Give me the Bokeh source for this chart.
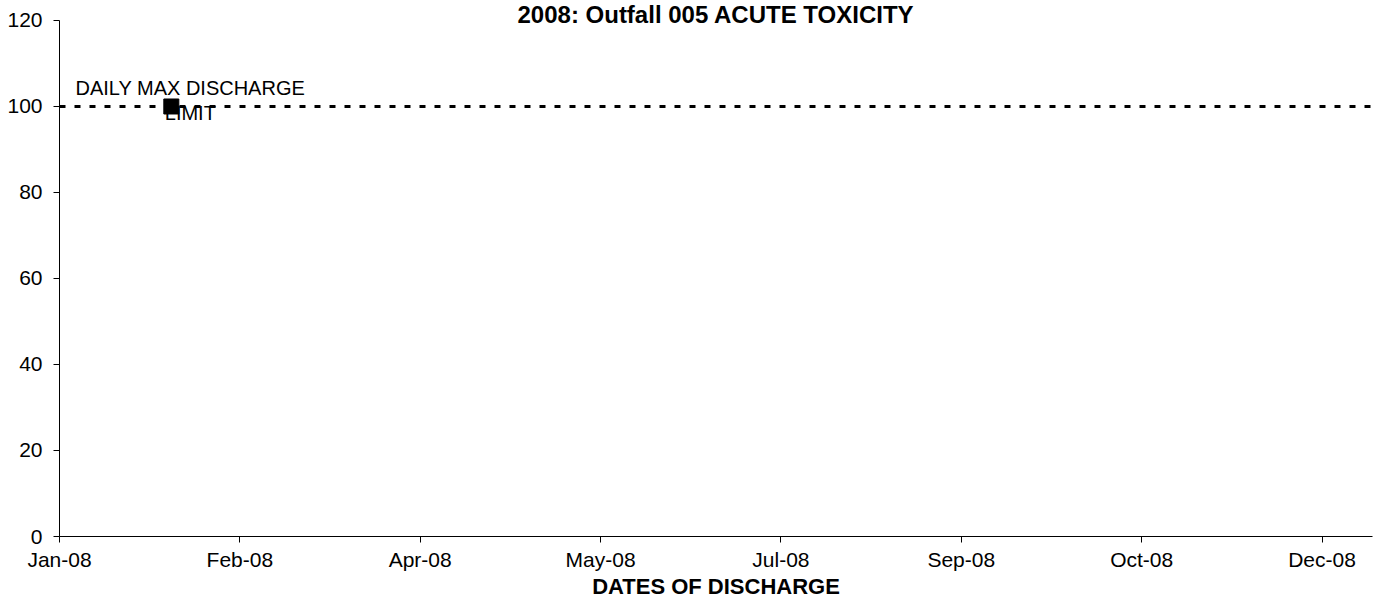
from datetime import datetime
from bokeh.plotting import figure
from bokeh.models import Span, Label, FixedTicker, DatetimeTickFormatter, Range1d, ColumnDataSource
from bokeh.embed import file_html
from bokeh.resources import INLINE
from bokeh.core.properties import value

# ---- data ----
title_text = "2008: Outfall 005 ACUTE TOXICITY"
x_axis_label = "DATES OF DISCHARGE"
sample_dates = ["2008-02-01"]
sample_values = [100]
sample_labels = ["DAILY MAX DISCHARGE\nLIMIT"]
limit_value = 100
x_tick_dates = ["2008-01-01", "2008-02-20", "2008-04-10", "2008-05-30",
                "2008-07-19", "2008-09-07", "2008-10-27", "2008-12-16"]
x_tick_labels = ["Jan-08", "Feb-08", "Apr-08", "May-08", "Jul-08", "Sep-08", "Oct-08", "Dec-08"]
y_ticks = [0, 20, 40, 60, 80, 100, 120]
x_start, x_end = "2008-01-01", "2008-12-30"
y_min, y_max = 0, 120

FONT = "Liberation Sans"
EPOCH = datetime(1970, 1, 1)


def to_ms(s):
    return (datetime.strptime(s, "%Y-%m-%d") - EPOCH).total_seconds() * 1000.0


xs = [to_ms(d) for d in sample_dates]
src = ColumnDataSource(dict(x=xs, y=sample_values, label=sample_labels))

# the frame reaches a little above 120 so the title can sit inside it
y_headroom = 4.65
p = figure(width=1373, height=602, output_backend="svg", toolbar_location=None,
           x_axis_type="datetime",
           x_range=Range1d(to_ms(x_start), to_ms(x_end)),
           y_range=Range1d(y_min, y_max + y_headroom),
           min_border_left=59, min_border_right=1, min_border_top=0, min_border_bottom=66)

p.xgrid.visible = False
p.ygrid.visible = False
p.outline_line_color = None
p.background_fill_color = "white"
p.border_fill_color = "white"

# limit line
p.add_layout(Span(location=limit_value, dimension="width", line_color="black",
                  line_width=3, line_dash="6 9"))

# sample marker
p.scatter("x", "y", source=src, marker="square", size=15, color="black")
p.text("x", "y", text="label", source=src, x_offset=19, y_offset=-6,
       text_align="center", text_baseline="middle", text_font=value(FONT),
       text_font_size="20px", text_color="black", text_line_height=1.1)

# axes
ms_ticks = [to_ms(d) for d in x_tick_dates]
p.xaxis.ticker = FixedTicker(ticks=ms_ticks)
p.xaxis.major_label_overrides = {t: lab for t, lab in zip(ms_ticks, x_tick_labels)}
fmt = "%b-%y"
p.xaxis.formatter = DatetimeTickFormatter(milliseconds=fmt, seconds=fmt, minsec=fmt, minutes=fmt,
                                          hourmin=fmt, hours=fmt, days=fmt, months=fmt, years=fmt)
p.yaxis.ticker = FixedTicker(ticks=y_ticks)
p.yaxis.bounds = (y_min, y_max)

for ax in (p.xaxis, p.yaxis):
    ax.axis_line_color = "black"
    ax.major_tick_line_color = "black"
    ax.major_tick_in = 0
    ax.major_tick_out = 6
    ax.minor_tick_line_color = None
    ax.major_label_text_font = FONT
    ax.major_label_text_font_size = "21px"
    ax.major_label_text_color = "black"

p.yaxis.major_label_standoff = 11
p.xaxis.major_label_standoff = 5
p.xaxis.axis_label = x_axis_label
p.xaxis.axis_label_text_font = FONT
p.xaxis.axis_label_text_font_size = "22px"
p.xaxis.axis_label_text_font_style = "bold"
p.xaxis.axis_label_text_color = "black"
p.xaxis.axis_label_standoff = 0

# title placed just above the 120 line
mid = (to_ms(x_start) + to_ms(x_end)) / 2.0
p.add_layout(Label(x=mid, y=y_max + 1.45, text=title_text, text_align="center",
                   text_baseline="middle", text_font=FONT, text_font_size="24px",
                   text_font_style="bold", text_color="black"))

open("out.html", "w").write(file_html(p, INLINE))
